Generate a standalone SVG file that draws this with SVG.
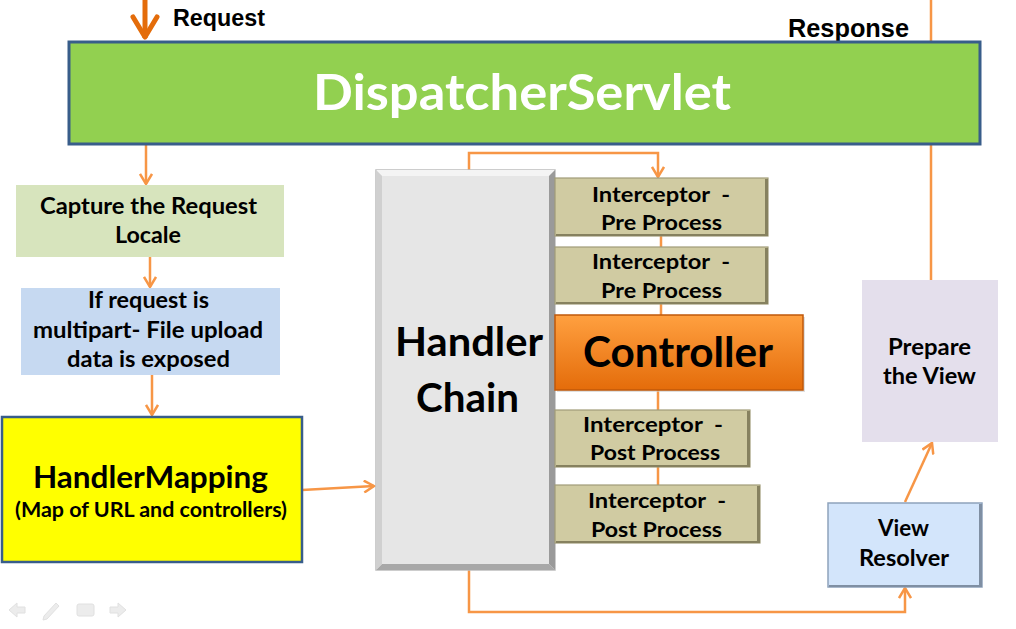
<svg xmlns="http://www.w3.org/2000/svg" width="1016" height="629" viewBox="0 0 1016 629">
<style>
.t{font-family:Lato,"Open Sans","Liberation Sans",sans-serif;font-weight:bold;fill:#000;text-anchor:middle}
.a{font-family:"Liberation Sans",Arial,sans-serif;font-weight:bold;fill:#000}
.c{fill:none;stroke:#F79646;stroke-width:2.5}
.int{fill:#D0CBA2;stroke:#A19C78;stroke-width:1.2}
.sh{fill:#86815F}
.nav{fill:#E8E8E8;stroke:#DADADA;stroke-width:1}
</style>
<defs>
<marker id="ah" viewBox="0 0 14 14" refX="12" refY="7" markerWidth="14" markerHeight="14" markerUnits="userSpaceOnUse" orient="auto">
<path d="M2,1 L12,7 L2,13" fill="none" stroke="#F79646" stroke-width="2.5"/>
</marker>
<linearGradient id="ctrl" x1="0" y1="0" x2="0" y2="1">
<stop offset="0" stop-color="#FFA040"/>
<stop offset="1" stop-color="#E46C0A"/>
</linearGradient>
</defs>
<rect width="1016" height="629" fill="#fff"/>

<g id="connectors">
<line x1="145" y1="0" x2="145" y2="38" stroke="#E46C0A" stroke-width="5"/>
<polyline points="133,17 145,37 157,17" fill="none" stroke="#E46C0A" stroke-width="5" stroke-linecap="round" stroke-linejoin="round"/>
<line x1="931" y1="0" x2="931" y2="280" stroke="#F79646" stroke-width="2.5"/>
<line class="c" x1="146" y1="144" x2="146" y2="184" marker-end="url(#ah)"/>
<line class="c" x1="150" y1="257" x2="150" y2="287" marker-end="url(#ah)"/>
<line class="c" x1="152" y1="375" x2="152" y2="415" marker-end="url(#ah)"/>
<line class="c" x1="302" y1="490" x2="374" y2="486" marker-end="url(#ah)"/>
<polyline class="c" points="469,170 469,153 658,153 658,177" marker-end="url(#ah)"/>
<line class="c" x1="661" y1="236" x2="661" y2="247"/>
<line class="c" x1="661" y1="304" x2="661" y2="315"/>
<line class="c" x1="658" y1="390" x2="658" y2="410"/>
<line class="c" x1="658" y1="467" x2="658" y2="485"/>
<polyline class="c" points="469,570 469,612 905,612 905,588" marker-end="url(#ah)"/>
<line class="c" x1="905" y1="502" x2="932" y2="443" marker-end="url(#ah)"/>
</g>

<g id="request-label"><text class="a" x="173" y="26" font-size="23" textLength="92" lengthAdjust="spacingAndGlyphs">Request</text></g>
<g id="response-label"><text class="a" x="788" y="37" font-size="25" textLength="121" lengthAdjust="spacingAndGlyphs">Response</text></g>

<g id="dispatcher">
<rect x="69" y="42" width="911" height="102" fill="#92D050" stroke="#385D8A" stroke-width="3"/>
<text class="t" x="522" y="110" font-size="50" style="fill:#fff" textLength="418" lengthAdjust="spacingAndGlyphs">DispatcherServlet</text>
</g>

<g id="capture">
<rect x="16" y="185" width="268" height="72" fill="#D7E4BD"/>
<text class="t" x="148.5" y="214" font-size="22" textLength="217" lengthAdjust="spacingAndGlyphs">Capture the Request</text>
<text class="t" x="148" y="243" font-size="22" textLength="66" lengthAdjust="spacingAndGlyphs">Locale</text>
</g>

<g id="multipart">
<rect x="21" y="288" width="259" height="87" fill="#C6D9F1"/>
<text class="t" x="148.5" y="308" font-size="22" textLength="121" lengthAdjust="spacingAndGlyphs">If request is</text>
<text class="t" x="148" y="338" font-size="22" textLength="230" lengthAdjust="spacingAndGlyphs">multipart- File upload</text>
<text class="t" x="148.5" y="367" font-size="22" textLength="163" lengthAdjust="spacingAndGlyphs">data is exposed</text>
</g>

<g id="handlermapping">
<rect x="2" y="417" width="300" height="145" fill="#FFFF00" stroke="#385D8A" stroke-width="2.5"/>
<text class="t" x="150.5" y="488" font-size="31" textLength="235" lengthAdjust="spacingAndGlyphs">HandlerMapping</text>
<text class="t" x="151" y="517" font-size="20" textLength="272" lengthAdjust="spacingAndGlyphs">(Map of URL and controllers)</text>
</g>

<g id="handlerchain">
<rect x="376" y="170" width="179" height="400" fill="#E6E6E6" stroke="#BDBDBD" stroke-width="1.5"/>
<polygon points="376,170 555,170 549,176 382,176" fill="#F4F4F4"/>
<polygon points="555,170 555,570 549,564 549,176" fill="#9A9A9A"/>
<polygon points="376,570 555,570 549,564 382,564" fill="#A8A8A8"/>
<polygon points="376,170 382,176 382,564 376,570" fill="#D0D0D0"/>
<text class="t" x="469" y="356" font-size="41" textLength="148" lengthAdjust="spacingAndGlyphs">Handler</text>
<text class="t" x="467.5" y="412" font-size="41" textLength="103" lengthAdjust="spacingAndGlyphs">Chain</text>
</g>

<g id="pre1">
<rect class="int" x="555" y="178" width="213" height="58"/>
<rect class="sh" x="765" y="179" width="3" height="57"/>
<rect class="sh" x="556" y="234" width="212" height="2"/>
<text class="t" x="661" y="202" font-size="21" textLength="138" lengthAdjust="spacingAndGlyphs">Interceptor&#160; -</text>
<text class="t" x="661.5" y="230" font-size="21" textLength="121" lengthAdjust="spacingAndGlyphs">Pre Process</text>
</g>

<g id="pre2">
<rect class="int" x="555" y="247" width="213" height="57"/>
<rect class="sh" x="765" y="248" width="3" height="56"/>
<rect class="sh" x="556" y="302" width="212" height="2"/>
<text class="t" x="661" y="269" font-size="21" textLength="138" lengthAdjust="spacingAndGlyphs">Interceptor&#160; -</text>
<text class="t" x="661.5" y="298" font-size="21" textLength="121" lengthAdjust="spacingAndGlyphs">Pre Process</text>
</g>

<g id="controller">
<rect x="557" y="317" width="248" height="75" fill="#C9C9C9" opacity="0.6"/>
<rect x="555" y="315" width="248" height="75" fill="url(#ctrl)" stroke="#C0580A" stroke-width="1.5"/>
<text class="t" x="678" y="367" font-size="42" textLength="190" lengthAdjust="spacingAndGlyphs">Controller</text>
</g>

<g id="post1">
<rect class="int" x="555" y="410" width="195" height="57"/>
<rect class="sh" x="747" y="411" width="3" height="56"/>
<rect class="sh" x="556" y="465" width="194" height="2"/>
<text class="t" x="653" y="432" font-size="21" textLength="140" lengthAdjust="spacingAndGlyphs">Interceptor&#160; -</text>
<text class="t" x="655" y="460" font-size="21" textLength="130" lengthAdjust="spacingAndGlyphs">Post Process</text>
</g>

<g id="post2">
<rect class="int" x="555" y="485" width="205" height="58"/>
<rect class="sh" x="757" y="486" width="3" height="57"/>
<rect class="sh" x="556" y="541" width="204" height="2"/>
<text class="t" x="657" y="508" font-size="21" textLength="138" lengthAdjust="spacingAndGlyphs">Interceptor&#160; -</text>
<text class="t" x="656.5" y="537" font-size="21" textLength="131" lengthAdjust="spacingAndGlyphs">Post Process</text>
</g>

<g id="viewresolver">
<rect x="828" y="503" width="154" height="84" fill="#D3E5FB" stroke="#8EA3BC" stroke-width="1.5"/>
<rect x="979" y="504" width="3" height="83" fill="#7F8FA3"/>
<rect x="829" y="585" width="153" height="2" fill="#7F8FA3"/>
<text class="t" x="903.5" y="536" font-size="22" textLength="51" lengthAdjust="spacingAndGlyphs">View</text>
<text class="t" x="904" y="566" font-size="22" textLength="90" lengthAdjust="spacingAndGlyphs">Resolver</text>
</g>

<g id="prepareview">
<rect x="862" y="280" width="136" height="162" fill="#E4DFEC"/>
<text class="t" x="929.5" y="355" font-size="22" textLength="83" lengthAdjust="spacingAndGlyphs">Prepare</text>
<text class="t" x="929.5" y="384" font-size="22" textLength="93" lengthAdjust="spacingAndGlyphs">the View</text>
</g>

<g id="nav-icons" opacity="0.8">
<polygon class="nav" points="9,610 17,603 17,607 25,607 25,613 17,613 17,617"/>
<polygon class="nav" points="44,616 56,603 59,606 47,619 43,620"/>
<rect class="nav" x="77" y="604" width="17" height="12" rx="2"/>
<polygon class="nav" points="126,610 118,603 118,607 110,607 110,613 118,613 118,617"/>
</g>
</svg>
